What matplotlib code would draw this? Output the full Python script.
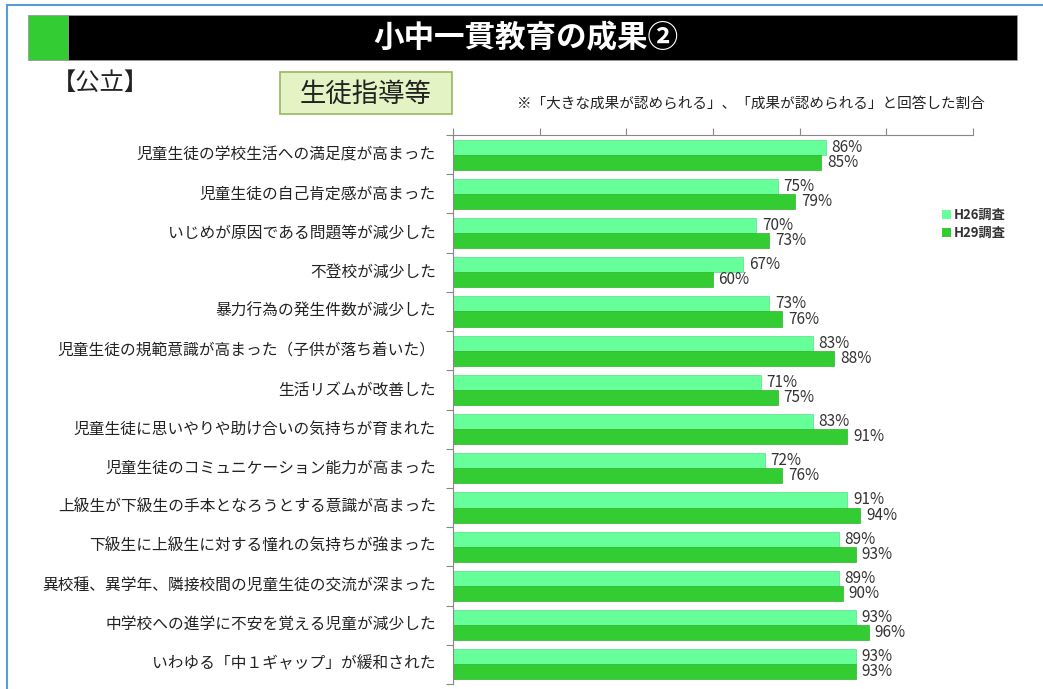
import matplotlib
matplotlib.use('Agg')
import matplotlib.pyplot as plt
from matplotlib.patches import Rectangle, Patch

plt.rcParams['font.family'] = ['Noto Sans CJK JP', 'DejaVu Sans']

# data
categories = [
    '児童生徒の学校生活への満足度が高まった',
    '児童生徒の自己肯定感が高まった',
    'いじめが原因である問題等が減少した',
    '不登校が減少した',
    '暴力行為の発生件数が減少した',
    '児童生徒の規範意識が高まった（子供が落ち着いた）',
    '生活リズムが改善した',
    '児童生徒に思いやりや助け合いの気持ちが育まれた',
    '児童生徒のコミュニケーション能力が高まった',
    '上級生が下級生の手本となろうとする意識が高まった',
    '下級生に上級生に対する憧れの気持ちが強まった',
    '異校種、異学年、隣接校間の児童生徒の交流が深まった',
    '中学校への進学に不安を覚える児童が減少した',
    'いわゆる「中１ギャップ」が緩和された',
]
h26 = [86, 75, 70, 67, 73, 83, 71, 83, 72, 91, 89, 89, 93, 93]
h29 = [85, 79, 73, 60, 76, 88, 75, 91, 76, 94, 93, 90, 96, 93]
series_names = ['H26調査', 'H29調査']
series_colors = ['#66FF99', '#33CC33']

W, H = 1043, 689
fig = plt.figure(figsize=(W / 100, H / 100), dpi=100)


def fx(x):
    return x / W


def fy(y):
    return 1 - y / H


# outer blue frame (left and top)
fig.add_artist(plt.Line2D([fx(7), fx(7)], [fy(5), 0], color='#5b9bd5', lw=1.5))
fig.add_artist(plt.Line2D([fx(7), 1], [fy(5), fy(5)], color='#5b9bd5', lw=1.5))

# title bar
fig.add_artist(Rectangle((fx(28), fy(60)), fx(40), 45 / H, facecolor='#33CC33',
                         edgecolor='#999999', lw=0.6))
fig.add_artist(Rectangle((fx(68), fy(60)), fx(1017 - 68), 45 / H, facecolor='black',
                         edgecolor='#999999', lw=0.6))
fig.text(fx(526), fy(38), '小中一貫教育の成果②', color='white', fontsize=22,
         fontweight='bold', ha='center', va='center')

fig.text(fx(52), fy(83), '【公立】', fontsize=17.5, ha='left', va='center', color='#222222')

# section box
fig.add_artist(Rectangle((fx(280), fy(114)), fx(172), 42 / H, facecolor='#e3f3c3',
                         edgecolor='#98b860', lw=1.2))
fig.text(fx(366), fy(94), '生徒指導等', fontsize=19, ha='center', va='center', color='#222222')

fig.text(fx(517), fy(104), '※「大きな成果が認められる」、「成果が認められる」と回答した割合',
         fontsize=10.5, ha='left', va='center', color='#222222')

# bar chart
ax = fig.add_axes([fx(453), fy(684), fx(973 - 453), (684 - 135) / H])
n = len(categories)
pos = list(range(n))
h = 0.385
bars1 = ax.barh([p - h / 2 for p in pos], h26, height=h, color=series_colors[0],
                edgecolor='#55dd88', lw=0.5, label=series_names[0])
bars2 = ax.barh([p + h / 2 for p in pos], h29, height=h, color=series_colors[1],
                edgecolor='#2db52d', lw=0.5, label=series_names[1])

for bars, vals in [(bars1, h26), (bars2, h29)]:
    for b, v in zip(bars, vals):
        ax.annotate(f'{v}%', (b.get_width(), b.get_y() + b.get_height() / 2),
                    xytext=(4, 0), textcoords='offset points', ha='left', va='center',
                    fontsize=11, color='#333333')

ax.set_xlim(0, 120)
ax.set_ylim(n - 0.5, -0.5)
ax.set_xticks(range(0, 121, 20))
ax.xaxis.tick_top()
ax.tick_params(axis='x', direction='out', length=5, color='#888888', labeltop=False)
ax.set_yticks([p - 0.5 for p in range(n + 1)])
ax.set_yticklabels([])
ax.tick_params(axis='y', direction='out', length=5, color='#888888')
for p, c in zip(pos, categories):
    ax.text(-0.033, p, c, transform=ax.get_yaxis_transform(), ha='right', va='center',
            fontsize=11.3, color='#222222')
for s in ['right', 'bottom']:
    ax.spines[s].set_visible(False)
for s in ['left', 'top']:
    ax.spines[s].set_color('#888888')

handles = [Patch(facecolor=c, edgecolor='none') for c in series_colors]
fig.legend(handles, series_names, loc='upper left', bbox_to_anchor=(fx(930), fy(196)),
           frameon=False, handlelength=0.7, handleheight=0.7, handletextpad=0.2,
           labelspacing=0.3, prop={'size': 9.5, 'weight': 'bold'}, labelcolor='#333333')

fig.savefig('out.png', dpi=100)
